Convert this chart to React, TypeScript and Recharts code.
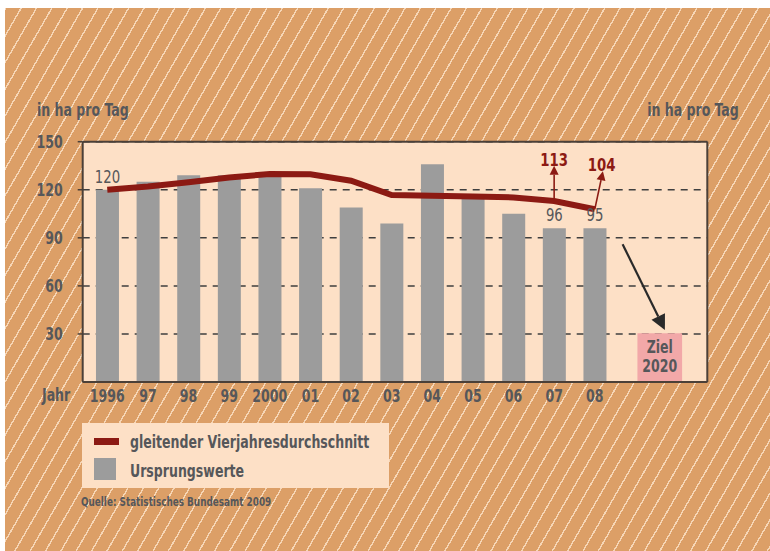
import React from 'react';
import {
  ComposedChart,
  Bar,
  Line,
  XAxis,
  YAxis,
  CartesianGrid,
  ReferenceArea,
  ReferenceLine,
  ReferenceDot,
  LabelList,
} from 'recharts';

// ---------- data ----------
const years = ['1996', '97', '98', '99', '2000', '01', '02', '03', '04', '05', '06', '07', '08'];
const originalValues = [120, 125, 129, 129, 131, 121, 109, 99, 136, 116, 105, 96, 96];
const movingAverage = [120, 122, 124.7, 127.6, 129.9, 129.7, 125.6, 116.7, 116.3, 115.8, 115.2, 113, 107.8];
const barLabels = ['120', '', '', '', '', '', '', '', '', '', '', '96', '95'];
const yTicks = [30, 60, 90, 120, 150];
const xTicks = [0, 1, 2, 3, 4, 5, 6, 7, 8, 9, 10, 11, 12];

const annotationLabels = ['113', '104'];
const annotationFromX = [11, 12];
const annotationFromY = [113, 107.8];
const annotationToX = [11, 12.2];
const annotationToY = [135, 131.5];
const annotationTextX = [11, 12.17];
const annotationTextY = [139, 136];

const goalLabel = ['Ziel', '2020'];
const goalRange = [13.05, 14.15];
const goalValue = 30.5;
const trendFrom = { x: 12.685, y: 86 };
const trendTo = { x: 13.726, y: 32.5 };

const legendItems = ['gleitender Vierjahresdurchschnitt', 'Ursprungswerte'];
const axisTitle = 'in ha pro Tag';
const xTitle = 'Jahr';
const sourceText = 'Quelle: Statistisches Bundesamt 2009';

const data = years.map((y, i) => ({
  x: i,
  year: y,
  original: originalValues[i],
  average: movingAverage[i],
  label: barLabels[i],
}));

// ---------- styles ----------
const FONT = "'DejaVu Sans Condensed', 'DejaVu Sans', sans-serif";
const TEXT = '#56575a';
const RED = '#8c1a13';
const BAR = '#9c9c9c';
const AXIS = '#4b4038';
const PEACH = '#fde0c6';
const ORANGE = '#dc9f67';
const HATCH = '#f6d6b6';
const SX = 0.82;

const arrowShape = (color: string, headLen: number, headHalf: number, width: number) => (p: any) => {
  const { x1, y1, x2, y2 } = p;
  const dx = x2 - x1;
  const dy = y2 - y1;
  const len = Math.hypot(dx, dy) || 1;
  const ux = dx / len;
  const uy = dy / len;
  const bx = x2 - ux * headLen;
  const by = y2 - uy * headLen;
  const nx = -uy;
  const ny = ux;
  return (
    <g>
      <line x1={x1} y1={y1} x2={bx} y2={by} stroke={color} strokeWidth={width} />
      <polygon
        points={`${x2},${y2} ${bx + nx * headHalf},${by + ny * headHalf} ${bx - nx * headHalf},${by - ny * headHalf}`}
        fill={color}
      />
    </g>
  );
};

const SText = ({ x, y, anchor, dy, children, fill = TEXT, weight = 'bold', size = 17 }: any) => (
  <text
    transform={`translate(${x},${y}) scale(${SX},1)`}
    x={0}
    y={0}
    dy={dy}
    textAnchor={anchor}
    fill={fill}
    fontFamily={FONT}
    fontWeight={weight}
    fontSize={size}
  >
    {children}
  </text>
);

const GoalLabel = (props: any) => {
  const vb = props.viewBox || {};
  const cx = vb.x + vb.width / 2;
  return (
    <g>
      <SText x={cx} y={vb.y + 20} anchor="middle">{goalLabel[0]}</SText>
      <SText x={cx} y={vb.y + 39} anchor="middle">{goalLabel[1]}</SText>
    </g>
  );
};

const XTick = (props: any) => (
  <SText x={props.x} y={props.y} anchor="middle" dy="0.71em">
    {years[props.payload.value]}
  </SText>
);
const YTickLeft = (props: any) => (
  <SText x={props.x} y={props.y} anchor="end" dy="0.36em">
    {props.payload.value}
  </SText>
);
const YTickRight = (props: any) => (
  <SText x={props.x} y={props.y} anchor="start" dy="0.36em">
    {props.payload.value}
  </SText>
);

const BarLabel = (props: any) => {
  const { x, y, width, value } = props;
  if (!value) return null;
  return (
    <SText x={Number(x) + Number(width) / 2} y={Number(y) - 7} anchor="middle" weight="normal" size={18}>
      {value}
    </SText>
  );
};

const htmlText = (extra: any) => ({
  position: 'absolute' as const,
  fontFamily: FONT,
  fontWeight: 'bold' as const,
  fontSize: 17,
  color: TEXT,
  whiteSpace: 'nowrap' as const,
  lineHeight: '20px',
  transform: `scaleX(${SX})`,
  transformOrigin: 'left center',
  ...extra,
});

export default function App() {
  return (
    <div style={{ position: 'absolute', left: 0, top: 0, width: 770, height: 551, background: '#ffffff' }}>
      <div
        style={{
          position: 'absolute',
          left: 5,
          top: 8,
          width: 765,
          height: 543,
          backgroundColor: ORANGE,
          backgroundImage: `repeating-linear-gradient(120deg, ${HATCH} 0px, ${HATCH} 1.4px, ${ORANGE} 1.4px, ${ORANGE} 13.3px)`,
          overflow: 'hidden',
        }}
      >
        <div style={{ position: 'absolute', left: 0, top: 0 }}>
          <ComposedChart width={765} height={543} data={data} margin={{ top: 133.7, right: 0, left: 0, bottom: 139 }}>
            <CartesianGrid vertical={false} horizontal={false} fill={PEACH} fillOpacity={1} />
            <XAxis
              dataKey="x"
              type="number"
              domain={[-0.605, 14.77]}
              ticks={xTicks}
              interval={0}
              height={30}
              tickLine={false}
              tickMargin={2}
              axisLine={{ stroke: AXIS, strokeWidth: 2 }}
              tick={<XTick />}
              allowDataOverflow
            />
            <YAxis
              yAxisId="left"
              domain={[0, 150]}
              ticks={yTicks}
              width={77.7}
              tickSize={5}
              tickMargin={15}
              axisLine={{ stroke: AXIS, strokeWidth: 2 }}
              tickLine={{ stroke: AXIS, strokeWidth: 1.5 }}
              tick={<YTickLeft />}
            />
            <YAxis
              yAxisId="right"
              orientation="right"
              domain={[0, 150]}
              ticks={yTicks}
              width={62.7}
              tickSize={5}
              tickMargin={4}
              axisLine={{ stroke: AXIS, strokeWidth: 2 }}
              tickLine={{ stroke: AXIS, strokeWidth: 1.5 }}
              tick={<YTickRight />}
            />
            <ReferenceArea
              yAxisId="left"
              x1={goalRange[0]}
              x2={goalRange[1]}
              y1={0}
              y2={goalValue}
              fill="#f2a8a8"
              fillOpacity={1}
              stroke="none"
              label={(p: any) => <GoalLabel {...p} />}
            />
            <Bar yAxisId="left" dataKey="original" fill={BAR} barSize={23} isAnimationActive={false}>
              <LabelList dataKey="label" content={(p: any) => <BarLabel {...p} />} />
            </Bar>
            <CartesianGrid
              vertical={false}
              yAxisId="left"
              stroke="#3f3f3f"
              strokeWidth={1.5}
              strokeDasharray="7 6"
            />
            <ReferenceLine yAxisId="left" y={150} stroke={AXIS} strokeWidth={2} />
            <Line
              yAxisId="left"
              dataKey="average"
              stroke={RED}
              strokeWidth={6}
              dot={false}
              activeDot={false}
              type="linear"
              isAnimationActive={false}
            />
            {annotationLabels.map((lab, i) => (
              <ReferenceLine
                key={'a' + i}
                yAxisId="left"
                segment={[
                  { x: annotationFromX[i], y: annotationFromY[i] },
                  { x: annotationToX[i], y: annotationToY[i] },
                ]}
                stroke={RED}
                shape={arrowShape(RED, 9, 4.5, 1.6)}
              />
            ))}
            {annotationLabels.map((lab, i) => (
              <ReferenceDot
                key={'t' + i}
                yAxisId="left"
                x={annotationTextX[i]}
                y={annotationTextY[i]}
                r={0}
                fill="none"
                stroke="none"
                label={(p: any) => {
                  const vb = p.viewBox || {};
                  const cx = vb.x + (vb.width || 0) / 2;
                  const cy = vb.y + (vb.height || 0) / 2;
                  return (
                    <SText x={cx} y={cy} anchor="middle" dy="0.36em" fill={RED} size={18}>
                      {lab}
                    </SText>
                  );
                }}
              />
            ))}
            <ReferenceLine
              yAxisId="left"
              segment={[trendFrom, trendTo]}
              stroke="#222"
              shape={arrowShape('#2a2a2a', 15, 7.5, 2.2)}
            />
          </ComposedChart>
        </div>

        {/* axis titles */}
        <div style={htmlText({ left: 32, top: 92 })}>{axisTitle}</div>
        <div style={htmlText({ right: 31, top: 92, transformOrigin: 'right center' })}>{axisTitle}</div>
        <div style={htmlText({ left: 36.7, top: 377 })}>{xTitle}</div>

        {/* legend */}
        <div style={{ position: 'absolute', left: 76.7, top: 414.7, width: 307.6, height: 65, background: PEACH }}>
          <div style={{ position: 'absolute', left: 12.3, top: 15.6, width: 25, height: 6.5, background: RED }} />
          <div style={htmlText({ left: 48.3, top: 9.3 })}>{legendItems[0]}</div>
          <div style={{ position: 'absolute', left: 12.3, top: 35.3, width: 22, height: 22, background: BAR }} />
          <div style={htmlText({ left: 48.3, top: 38.3 })}>{legendItems[1]}</div>
        </div>
        <div style={htmlText({ left: 75.7, top: 485.7, fontSize: 12, lineHeight: '16px' })}>{sourceText}</div>
      </div>
    </div>
  );
}
